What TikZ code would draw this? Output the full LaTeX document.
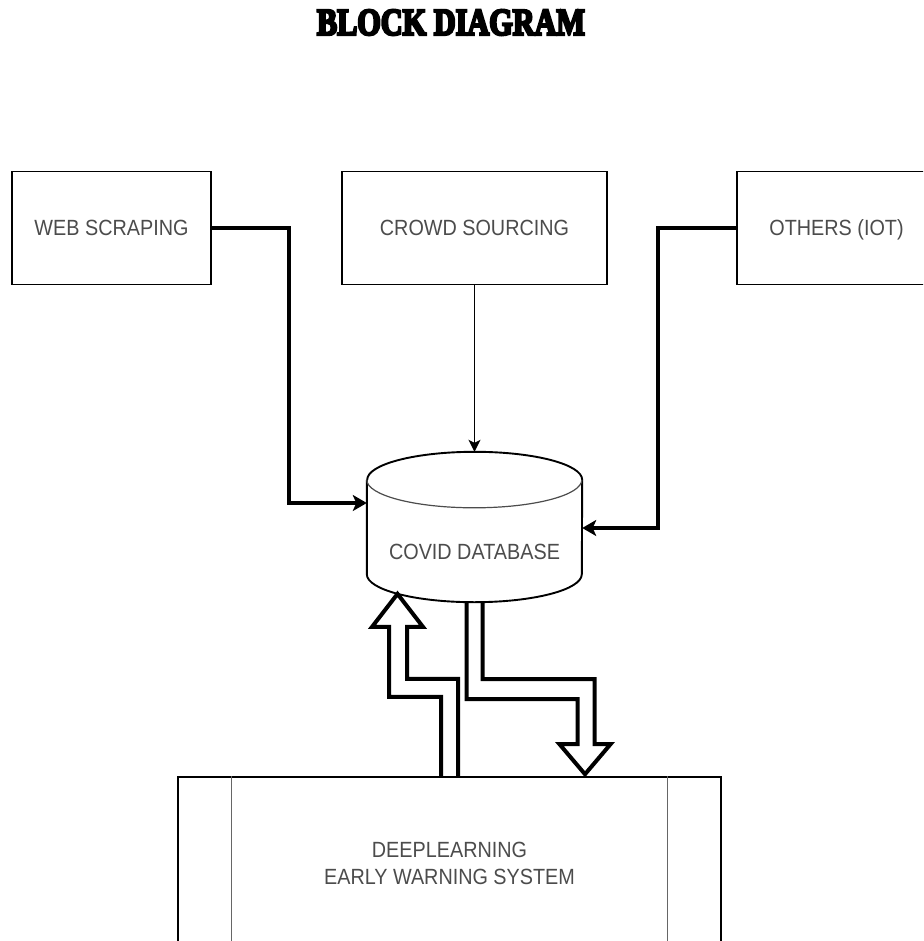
\documentclass[tikz,border=0pt]{standalone}
\usepackage{fontspec}
\usepackage{graphicx}
\setmainfont{Liberation Sans}[FakeStretch=0.9]
\newfontfamily\headfont{Liberation Serif}[FakeBold=7]
\usetikzlibrary{arrows.meta,calc}

\tikzset{
  labeltext/.style={text=black!70, font=\fontsize{22}{27}\selectfont, align=center},
  block/.style={labeltext, draw=black, line width=1.7pt, minimum width=199pt,
    minimum height=113pt, inner sep=0pt, text height=16pt, text depth=0pt},
  sysbox/.style={labeltext, draw=black, line width=2.2pt, minimum width=543pt,
    minimum height=173pt, inner sep=0pt},
  feed/.style={draw=black, line width=3.8pt, line join=miter,
    -{Stealth[length=14pt,width=16pt,inset=3.5pt]}},
  thinfeed/.style={draw=black, line width=1.3pt,
    -{Stealth[length=12pt,width=12pt,inset=3pt]}},
  hollow/.style={draw=black, line width=4pt, line join=miter},
  cylwall/.style={draw=black, line width=1.9pt},
  cylrim/.style={draw=black!70, line width=1.2pt},
  sidebar/.style={draw=black!60, line width=1.1pt},
}

\begin{document}
\begin{tikzpicture}[x=1pt, y=-1pt]
  \useasboundingbox (0,0) rectangle (923,941);
  \fill[white] (0,0) rectangle (923,941);
  \clip (0,0) rectangle (923,941);

  % heading
  \node[inner sep=0pt] (title) at (451,22.5)
    {\resizebox{268pt}{25pt}{\headfont\bfseries BLOCK DIAGRAM}};

  % data sources
  \node[block] (web) at (111.5,228) {WEB SCRAPING};
  \node[block, minimum width=265pt] (crowd) at (474.5,228) {CROWD SOURCING};
  \node[block] (oth) at (836.5,228) {OTHERS (IOT)};

  % database (outline drawn below)
  \node[minimum width=215pt, minimum height=150pt, inner sep=0pt] (db) at (474.5,527) {};
  \node[labeltext] (dbtext) at ([yshift=-25pt]db.center) {COVID DATABASE};

  % deep learning system
  \node[sysbox] (dl) at (449.5,863.5) {DEEPLEARNING\\EARLY WARNING SYSTEM};
  \draw[sidebar] ([xshift=55pt]dl.north west) -- ([xshift=55pt]dl.south west);
  \draw[sidebar] ([xshift=-55pt]dl.north east) -- ([xshift=-55pt]dl.south east);

  % cylinder outline
  \draw[cylwall] ([yshift=-28pt]db.north west) -- ([yshift=28pt]db.south west)
    arc[start angle=180, end angle=0, x radius=107.5, y radius=28]
    -- ([yshift=-28pt]db.north east)
    arc[start angle=0, end angle=-180, x radius=107.5, y radius=28];
  \draw[cylrim] ([yshift=-28pt]db.north west)
    arc[start angle=180, end angle=0, x radius=107.5, y radius=28];

  % feeds into the database
  \draw[feed] (web.east) -- ++(77,0) |- ([yshift=24pt]db.west);
  \draw[feed] (oth.west) -- ++(-78,0) |- ([yshift=-1pt]db.east);
  \draw[thinfeed] (crowd.south) -- (db.north);

  % hollow arrow: system back to database
  \draw[hollow] ([xshift=-8.5pt]dl.north) -- ++(0,-79) -- ++(-52,0) -- ++(0,-70)
    -- ++(-17,0) -- ++(25.5,-33) -- ++(25.5,33) -- ++(-16,0) -- ++(0,52)
    -- ++(51,0) -- ([xshift=8.5pt]dl.north);

  % hollow arrow: database to system
  \draw[hollow] ([xshift=-8pt]db.south) -- ++(0,97) -- ++(111,0) -- ++(0,45)
    -- ++(-18,0) -- ++(25.5,30) -- ++(25.5,-30) -- ++(-16,0) -- ++(0,-65)
    -- ++(-112,0) -- ([xshift=8pt]db.south);
\end{tikzpicture}
\end{document}
